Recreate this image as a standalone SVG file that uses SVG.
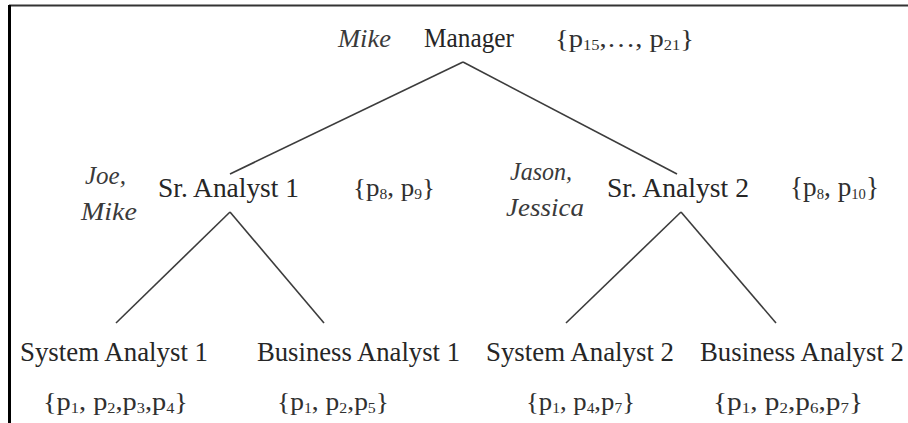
<svg xmlns="http://www.w3.org/2000/svg" width="908" height="423" viewBox="0 0 908 423">
<style>
text{font-family:"Liberation Serif","Times New Roman",serif;fill:#262626}
.lbl{font-size:27px}
.set{font-size:26px;fill:#303030}
.sub{font-size:15px}
.ppl{font-size:25px;font-style:italic;fill:#3a3a3a}
.edge{stroke:#3c3c3c;stroke-width:1.6;fill:none}
</style>
<rect x="0" y="0" width="908" height="423" fill="#ffffff"/>
<g id="frame">
<line x1="9" y1="5.5" x2="908" y2="5.5" stroke="#333" stroke-width="2"/>
<line x1="9.5" y1="5" x2="9.5" y2="423" stroke="#000" stroke-width="3"/>
</g>
<g id="connectors">
<line class="edge" x1="463" y1="62" x2="230" y2="174"/>
<line class="edge" x1="463" y1="62" x2="677" y2="174"/>
<line class="edge" x1="230" y1="212" x2="116" y2="323"/>
<line class="edge" x1="230" y1="212" x2="324" y2="323"/>
<line class="edge" x1="681" y1="212" x2="566" y2="323"/>
<line class="edge" x1="681" y1="212" x2="776" y2="323"/>
</g>
<g id="manager">
<text class="ppl" x="338" y="47" textLength="53" lengthAdjust="spacingAndGlyphs">Mike</text>
<text class="lbl" x="424" y="47" textLength="90" lengthAdjust="spacingAndGlyphs">Manager</text>
<text class="set" x="555" y="47" textLength="139" lengthAdjust="spacingAndGlyphs">{p<tspan class="sub" dy="3">15</tspan><tspan dy="-3">,…, p</tspan><tspan class="sub" dy="3">21</tspan><tspan dy="-3">}</tspan></text>
</g>
<g id="sr-analyst-1">
<text class="ppl" x="85" y="184" textLength="41" lengthAdjust="spacingAndGlyphs">Joe,</text>
<text class="ppl" x="81" y="220" textLength="56" lengthAdjust="spacingAndGlyphs">Mike</text>
<text class="lbl" x="158" y="197" textLength="141" lengthAdjust="spacingAndGlyphs">Sr. Analyst 1</text>
<text class="set" x="353" y="196" textLength="82" lengthAdjust="spacingAndGlyphs">{p<tspan class="sub" dy="3">8</tspan><tspan dy="-3">, p</tspan><tspan class="sub" dy="3">9</tspan><tspan dy="-3">}</tspan></text>
</g>
<g id="sr-analyst-2">
<text class="ppl" x="510" y="180" textLength="62" lengthAdjust="spacingAndGlyphs">Jason,</text>
<text class="ppl" x="506" y="216" textLength="78" lengthAdjust="spacingAndGlyphs">Jessica</text>
<text class="lbl" x="607" y="197" textLength="142" lengthAdjust="spacingAndGlyphs">Sr. Analyst 2</text>
<text class="set" x="790" y="196" textLength="89" lengthAdjust="spacingAndGlyphs" style="font-size:28px">{p<tspan class="sub" dy="3">8</tspan><tspan dy="-3">, p</tspan><tspan class="sub" dy="3">10</tspan><tspan dy="-3">}</tspan></text>
</g>
<g id="system-analyst-1">
<text class="lbl" x="20" y="361" textLength="188" lengthAdjust="spacingAndGlyphs">System Analyst 1</text>
<text class="set" x="43" y="410" textLength="145" lengthAdjust="spacingAndGlyphs">{p<tspan class="sub" dy="3">1</tspan><tspan dy="-3">, p</tspan><tspan class="sub" dy="3">2</tspan><tspan dy="-3">,p</tspan><tspan class="sub" dy="3">3</tspan><tspan dy="-3">,p</tspan><tspan class="sub" dy="3">4</tspan><tspan dy="-3">}</tspan></text>
</g>
<g id="business-analyst-1">
<text class="lbl" x="257" y="361" textLength="203" lengthAdjust="spacingAndGlyphs">Business Analyst 1</text>
<text class="set" x="277" y="410" textLength="112" lengthAdjust="spacingAndGlyphs">{p<tspan class="sub" dy="3">1</tspan><tspan dy="-3">, p</tspan><tspan class="sub" dy="3">2</tspan><tspan dy="-3">,p</tspan><tspan class="sub" dy="3">5</tspan><tspan dy="-3">}</tspan></text>
</g>
<g id="system-analyst-2">
<text class="lbl" x="486" y="361" textLength="188" lengthAdjust="spacingAndGlyphs">System Analyst 2</text>
<text class="set" x="526" y="410" textLength="109" lengthAdjust="spacingAndGlyphs">{p<tspan class="sub" dy="3">1</tspan><tspan dy="-3">, p</tspan><tspan class="sub" dy="3">4</tspan><tspan dy="-3">,p</tspan><tspan class="sub" dy="3">7</tspan><tspan dy="-3">}</tspan></text>
</g>
<g id="business-analyst-2">
<text class="lbl" x="700" y="361" textLength="204" lengthAdjust="spacingAndGlyphs">Business Analyst 2</text>
<text class="set" x="713" y="410" textLength="150" lengthAdjust="spacingAndGlyphs">{p<tspan class="sub" dy="3">1</tspan><tspan dy="-3">, p</tspan><tspan class="sub" dy="3">2</tspan><tspan dy="-3">,p</tspan><tspan class="sub" dy="3">6</tspan><tspan dy="-3">,p</tspan><tspan class="sub" dy="3">7</tspan><tspan dy="-3">}</tspan></text>
</g>
</svg>
